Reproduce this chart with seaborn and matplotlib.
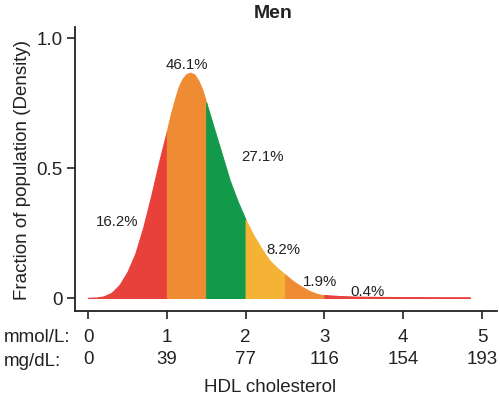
import matplotlib
matplotlib.use("Agg")
import matplotlib.pyplot as plt
import numpy as np
import pandas as pd
import seaborn as sns

# HDL cholesterol level (mmol/L) and the density of men at that level
hdl_mmol = [0.0, 0.1, 0.2, 0.3, 0.4, 0.5, 0.6, 0.7, 0.8, 0.9, 0.95,
            1.0, 1.05, 1.1, 1.15, 1.2, 1.25, 1.3, 1.35, 1.4, 1.45, 1.5, 1.55,
            1.6, 1.7, 1.8, 1.9,
            2.0, 2.1, 2.2, 2.3, 2.4, 2.5, 2.6, 2.7, 2.8, 2.9,
            3.0, 3.2, 3.4, 3.6, 3.8, 4.0, 4.4, 4.85]
density = [0.0, 0.001, 0.006, 0.02, 0.05, 0.10, 0.17, 0.27, 0.39, 0.52, 0.58,
           0.64, 0.705, 0.76, 0.81, 0.842, 0.86, 0.865, 0.858, 0.835, 0.80, 0.75, 0.70,
           0.65, 0.55, 0.45, 0.37,
           0.30, 0.24, 0.19, 0.145, 0.115, 0.09, 0.065, 0.045, 0.028, 0.016,
           0.009, 0.005, 0.003, 0.002, 0.0015, 0.001, 0.0005, 0.0003]

# HDL bands and the share of men that falls in each
band_edges = [0.0, 1.0, 1.5, 2.0, 2.5, 3.0, 4.85]
band_share = ["16.2%", "46.1%", "27.1%", "8.2%", "1.9%", "0.4%"]

# axis ticks in both units
mmol_ticks = [0, 1, 2, 3, 4, 5]
mgdl_labels = ["0", "39", "77", "116", "154", "193"]

# styling
band_colors = ["#E8403A", "#EF8B33", "#129A4A", "#F5B335", "#EF8B33", "#E8403A"]
share_pos = [(0.37, 0.296), (1.256, 0.90), (2.22, 0.546),
             (2.475, 0.188), (2.94, 0.065), (3.55, 0.027)]

sns.set_theme(style="ticks")
plt.rcParams["font.family"] = ["Liberation Sans", "DejaVu Sans"]
ink = "#222222"
fs = 13.5

df = pd.DataFrame({"hdl": hdl_mmol, "density": density})

fig = plt.figure(figsize=(5.0, 4.02), dpi=100)
ax = fig.add_axes([0.15, 0.224, 0.844, 0.706])

x = df["hdl"].to_numpy()
y = df["density"].to_numpy()
for lo, hi, col in zip(band_edges[:-1], band_edges[1:], band_colors):
    m = (x >= lo - 1e-9) & (x <= hi + 1e-9)
    ax.fill_between(x[m], 0, y[m], color=col, lw=0.8, edgecolor=col)

sns.lineplot(data=df[df["hdl"] >= 3.0], x="hdl", y="density", ax=ax,
             color=band_colors[-1], lw=0.9)

for txt, (px, py) in zip(band_share, share_pos):
    ax.text(px, py, txt, ha="center", va="center", fontsize=10.8, color=ink)

ax.set_xlim(-0.165, 5.19)
ax.set_ylim(-0.05, 1.04)
ax.set_yticks([0, 0.5, 1.0])
ax.set_yticklabels(["0", "0.5", "1.0"])
ax.set_xticks(mmol_ticks)
ax.set_xticklabels([f"{a}\n{b}" for a, b in zip(mmol_ticks, mgdl_labels)],
                   linespacing=1.4)
ax.tick_params(axis="both", labelsize=fs, colors=ink, width=1.2, length=6)
ax.tick_params(axis="x", pad=6)
ax.tick_params(axis="y", pad=3)
for s in ("left", "bottom"):
    ax.spines[s].set_color(ink)
    ax.spines[s].set_linewidth(1.3)
sns.despine(ax=ax)

ax.set_xlabel("")
ax.set_ylabel("Fraction of population (Density)", fontsize=fs, color=ink, labelpad=4)

fig.text(0.008, 1 - 338 / 402, "mmol/L:", ha="left", va="center", fontsize=fs, color=ink)
fig.text(0.008, 1 - 362 / 402, "mg/dL:", ha="left", va="center", fontsize=fs, color=ink)
fig.text(0.54, 1 - 388 / 402, "HDL cholesterol", ha="center", va="center",
         fontsize=fs, color=ink)
fig.text(0.546, 1 - 14 / 402, "Men", ha="center", va="center", fontsize=14,
         fontweight="bold", color=ink)

fig.savefig("out.png", dpi=100, facecolor="white")
